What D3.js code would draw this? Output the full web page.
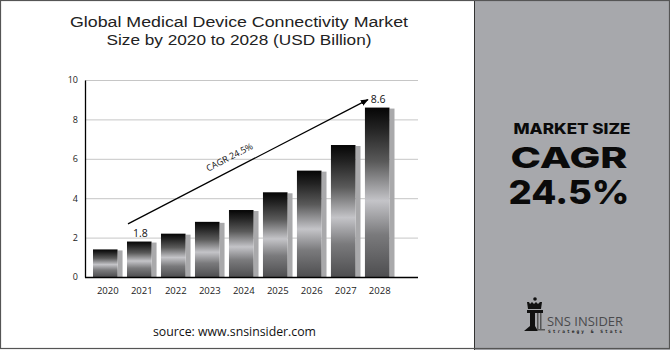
<!DOCTYPE html>
<html><head><meta charset="utf-8">
<script src="https://cdn.jsdelivr.net/npm/d3@7"></script>
<style>html,body{margin:0;padding:0;background:#fff}svg{display:block}</style>
</head><body>
<script>
const years = ["2020","2021","2022","2023","2024","2025","2026","2027","2028"];
const values = [1.4, 1.8, 2.2, 2.8, 3.4, 4.3, 5.4, 6.7, 8.6];
const yTicks = [0, 2, 4, 6, 8, 10];
const titleLines = ["Global Medical Device Connectivity Market", "Size by 2020 to 2028 (USD Billion)"];
const cagrLabel = "CAGR 24.5%";
const labeledYears = ["2021", "2028"];

const W = 670, H = 350;
const svg = d3.select("body").append("svg").attr("width", W).attr("height", H);

const defs = svg.append("defs");
const g = defs.append("linearGradient").attr("id","barGrad").attr("x1",0).attr("y1",0).attr("x2",0).attr("y2",1);
[[0,"#050505"],[0.12,"#222"],[0.32,"#5a5a5a"],[0.55,"#c4c4c8"],[0.75,"#7a7a7c"],[1,"#4e4e50"]]
  .forEach(([o,c]) => g.append("stop").attr("offset",o).attr("stop-color",c));
defs.append("marker").attr("id","arr").attr("viewBox","0 0 10 10").attr("refX",9).attr("refY",5)
  .attr("markerWidth",6).attr("markerHeight",6).attr("orient","auto")
  .append("path").attr("d","M0,1 L10,5 L0,9 Z").attr("fill","#000");

// right panel
svg.append("rect").attr("x",474).attr("y",0).attr("width",W-474).attr("height",H).attr("fill","#a7a8ac");
svg.append("line").attr("x1",474.5).attr("x2",474.5).attr("y1",0).attr("y2",H).attr("stroke","#333").attr("stroke-width",1);
// frame
svg.append("rect").attr("x",0.5).attr("y",0.5).attr("width",W-1).attr("height",H-2).attr("fill","none").attr("stroke","#555").attr("stroke-width",1.2);

// title
const titleW = [338, 265];
svg.append("g").selectAll("text").data(titleLines).join("text")
  .attr("x",239).attr("y",(d,i)=>27+i*17.5).attr("text-anchor","middle")
  .attr("font-family","'Liberation Sans', Arial, sans-serif").attr("font-size",15.5).attr("fill","#222")
  .attr("textLength",(d,i)=>titleW[i]).attr("lengthAdjust","spacingAndGlyphs")
  .text(d=>d);

const x = d3.scaleBand().domain(years).range([93, 394.5]).paddingInner(0.13).paddingOuter(0);
const y = d3.scaleLinear().domain([0,10]).range([277, 80]);

// gridlines
svg.append("g").selectAll("line").data(yTicks.filter(t=>t>0)).join("line")
  .attr("x1",85).attr("x2",418).attr("y1",d=>y(d)+0.5).attr("y2",d=>y(d)+0.5)
  .attr("stroke","#c6c6c6").attr("stroke-width",1);

// y axis
const yAxis = svg.append("g").attr("transform","translate(85,0)")
  .call(d3.axisLeft(y).tickValues(yTicks).tickSize(0).tickPadding(7));
yAxis.select(".domain").attr("stroke","#000").attr("stroke-width",1.3);
yAxis.selectAll("text").attr("font-family","'Open Sans', sans-serif").attr("font-size",9).attr("fill","#222");

// bars
const bw = x.bandwidth();
const front = bw * 0.83;
const bars = svg.append("g").selectAll("g").data(years).join("g");
bars.append("rect").attr("x",d=>x(d)+front).attr("y",(d,i)=>y(values[i])+1)
  .attr("width",bw-front).attr("height",(d,i)=>277-y(values[i])-1).attr("fill","#a9a9ab");
bars.append("rect").attr("x",d=>x(d)).attr("y",(d,i)=>y(values[i]))
  .attr("width",front).attr("height",(d,i)=>277-y(values[i])).attr("fill","url(#barGrad)");

// x axis
const xAxis = svg.append("g").attr("transform","translate(0,277)")
  .call(d3.axisBottom(x).tickSize(0).tickPadding(10));
xAxis.select(".domain").remove();
svg.append("line").attr("x1",85).attr("x2",418).attr("y1",277.5).attr("y2",277.5).attr("stroke","#000").attr("stroke-width",1.3);
xAxis.selectAll("text").attr("font-family","'Open Sans', sans-serif").attr("font-size",9.5).attr("fill","#222");

// value labels
svg.append("g").selectAll("text").data(labeledYears).join("text")
  .attr("x",d=>x(d)+front/2+1)
  .attr("y",d=>y(values[years.indexOf(d)])-5).attr("text-anchor","middle")
  .attr("font-family","'Open Sans', sans-serif").attr("font-size",10.5).attr("fill","#111")
  .text(d=>values[years.indexOf(d)].toFixed(1));

// CAGR arrow
const x0 = x("2021")+1, y0 = y(2.7), x1 = x("2028")+3, y1 = y(9.0);
svg.append("line").attr("x1",x0).attr("y1",y0).attr("x2",x1).attr("y2",y1)
  .attr("stroke","#000").attr("stroke-width",1.3).attr("marker-end","url(#arr)");
const ang = Math.atan2(y1-y0, x1-x0)*180/Math.PI;
svg.append("text").attr("transform",`translate(231,160) rotate(${ang})`).attr("text-anchor","middle")
  .attr("font-family","'Open Sans', sans-serif").attr("font-size",9).attr("fill","#111").text(cagrLabel);

// source
svg.append("text").attr("x",234.5).attr("y",336).attr("text-anchor","middle")
  .attr("font-family","'Open Sans', sans-serif").attr("font-size",12).attr("fill","#111")
  .attr("textLength",163).attr("lengthAdjust","spacingAndGlyphs").text("source: www.snsinsider.com");

// right panel texts
const rp = svg.append("g").attr("font-family","Inter, 'Open Sans', sans-serif").attr("fill","#0a0a0a").attr("text-anchor","middle");
rp.append("text").attr("x",572).attr("y",134).attr("font-size",14.5).attr("font-weight",800)
  .attr("textLength",117).attr("lengthAdjust","spacingAndGlyphs").text("MARKET SIZE");
rp.append("text").attr("x",569).attr("y",168).attr("font-size",29).attr("font-weight",800)
  .attr("textLength",117).attr("lengthAdjust","spacingAndGlyphs").text("CAGR");
rp.append("text").attr("x",569).attr("y",204).attr("font-size",33).attr("font-weight",800)
  .attr("textLength",121).attr("lengthAdjust","spacingAndGlyphs").text("24.5%");

// logo
const lg = svg.append("g").attr("fill","#111");
lg.append("circle").attr("cx",535).attr("cy",299).attr("r",1.8);
lg.append("path").attr("d","M527,302 L529,302 L530,304 L532,302 L534,304 L536,302 L538,304 L540,302 L542,302 L541,309 L528,309 Z");
lg.append("rect").attr("x",527).attr("y",310).attr("width",16).attr("height",3);
lg.append("path").attr("d","M530,313 L535,313 L535,326 L538,331 L524,331 L530,326 Z");
lg.append("rect").attr("x",537).attr("y",313).attr("width",1.5).attr("height",16).attr("fill","#555");
lg.append("rect").attr("x",540).attr("y",313).attr("width",1.5).attr("height",16).attr("fill","#555");
lg.append("rect").attr("x",537).attr("y",329).attr("width",8).attr("height",1.5).attr("fill","#555");
svg.append("text").attr("x",547).attr("y",326).attr("font-family","'Open Sans', sans-serif").attr("font-size",13)
  .attr("fill","#4a4a4c").attr("textLength",76).attr("lengthAdjust","spacingAndGlyphs").text("SNS INSIDER");
svg.append("text").attr("x",548).attr("y",332.5).attr("font-family","'DejaVu Sans Mono', monospace").attr("font-size",4.5).attr("font-weight",700)
  .attr("fill","#222").attr("textLength",74).attr("lengthAdjust","spacing").text("Strategy & Stats");
</script>
</body></html>
